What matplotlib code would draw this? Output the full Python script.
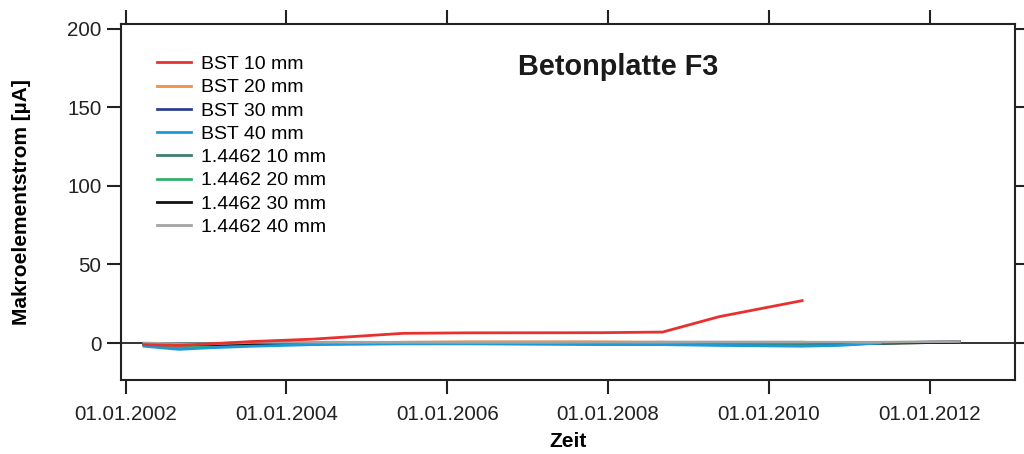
import numpy as np
import pandas as pd
import matplotlib
matplotlib.use("Agg")
import matplotlib.pyplot as plt
import matplotlib.dates as mdates

plt.rcParams['font.family'] = ['Liberation Sans', 'DejaVu Sans']

dates = pd.to_datetime([
    "2002-03-25", "2002-09-01", "2003-01-15", "2003-08-01", "2004-05-01",
    "2005-06-15", "2006-04-01", "2007-11-20", "2008-09-05", "2009-05-20",
    "2010-06-01", "2010-11-15", "2011-05-20", "2012-05-15",
])

bst_10 = [-1.0, -1.5, -0.5, 1.0, 2.5, 6.2, 6.5, 6.6, 7.0, 16.8, 27.0]
bst_20 = [-1.0, -3.0, -2.5, -1.5, -0.5, 0.5, 0.8, 0.8, 0.5, 0.0, -0.5, 0.0, 0.0, 0.5]
bst_30 = [-0.5, -1.0, -1.0, -0.5, 0.0, 0.0, 0.0, 0.0, 0.0, -0.5, -1.0, -1.0, 0.0, 1.0]
bst_40 = [-2.0, -4.0, -3.0, -2.0, -1.0, -0.5, -0.5, -1.0, -1.0, -1.5, -2.0, -1.5, 0.0]
w_10 = [-0.5, -0.5, -0.5, 0.0, 0.0, 0.0, 0.0, 0.0, 0.0, 0.0, 0.0, 0.0, 0.0, 0.5]
w_20 = [-1.0, -2.5, -1.5, -1.0, -0.5, 0.0, 0.0, 0.0, 0.0, 0.0, 0.0, 0.0, 0.0, 0.5]
w_30 = [-0.5, -1.0, -1.0, -0.5, 0.0, 0.0, 0.0, 0.3, 0.5, 0.5, 0.5, 0.0, 0.0, 0.5]
w_40 = [0.0, -0.5, -0.5, 0.5, 0.5, 0.5, 0.5, 0.5, 0.5, 0.5, 0.5, 0.5, 0.5, 1.0]

series = [
    ("BST 10 mm", bst_10, "#e8312f", 10),
    ("BST 20 mm", bst_20, "#f28e45", 3),
    ("BST 30 mm", bst_30, "#2e3f8f", 3),
    ("BST 40 mm", bst_40, "#1a9ad6", 4),
    ("1.4462 10 mm", w_10, "#3f7f73", 3),
    ("1.4462 20 mm", w_20, "#33b06a", 3),
    ("1.4462 30 mm", w_30, "#111111", 3),
    ("1.4462 40 mm", w_40, "#a3a3a3", 5),
]

fig = plt.figure(figsize=(10.24, 4.54), dpi=100)
ax = fig.add_axes([0.118, 0.163, 0.873, 0.784])

ax.axhline(0, color="#222222", lw=1.3, zorder=2)
for label, vals, color, z in series:
    ax.plot(dates[:len(vals)], vals, color=color, lw=2.0, label=label, zorder=z)

ax.set_ylim(-23.5, 203)
ax.set_xlim(pd.Timestamp("2001-12-10"), pd.Timestamp("2013-01-22"))
ax.set_yticks([0, 50, 100, 150, 200])
ax.xaxis.set_major_locator(mdates.YearLocator(2))
ax.xaxis.set_major_formatter(mdates.DateFormatter("%d.%m.%Y"))

for s in ax.spines.values():
    s.set_linewidth(1.5)
    s.set_color("#222222")
ax.tick_params(direction="out", length=10, width=1.5, color="#222222",
               labelsize=14.8, labelcolor="#222222",
               top=True, right=True)
ax.tick_params(axis="x", pad=8)
ax.tick_params(axis="y", pad=4)

ax.set_xlabel("Zeit", fontsize=15, fontweight="bold", labelpad=6)
ax.set_ylabel("Makroelementstrom [µA]", fontsize=15, fontweight="bold", labelpad=26)

ax.text(0.556, 0.88, "Betonplatte F3", transform=ax.transAxes, ha="center",
        va="center", fontsize=20.8, fontweight="bold", color="#1a1a1a")

ax.legend(loc="upper left", bbox_to_anchor=(0.025, 0.95), frameon=False,
          fontsize=14, handlelength=1.75, handletextpad=0.5, labelspacing=0.29,
          borderaxespad=0.3)

fig.savefig("out.png", dpi=100)
